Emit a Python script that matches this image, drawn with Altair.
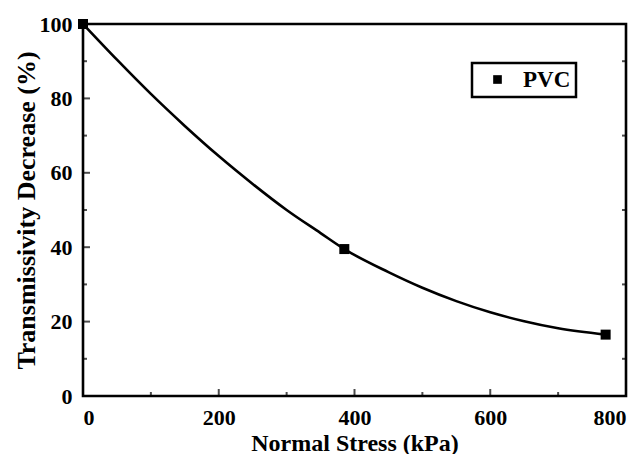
import altair as alt
import pandas as pd

# measured points
pts_x = [0, 385, 770]
pts_y = [100, 39.5, 16.5]
series_name = "PVC"

# fitted curve
curve_x = [0, 50, 100, 150, 200, 250, 300, 350, 385, 450, 500, 550, 600, 650, 700, 770]
curve_y = [100, 90.4, 81.2, 72.6, 64.5, 57, 50, 43.8, 39.5, 33.3, 29.1, 25.5, 22.5, 20.1, 18.2, 16.5]

x_major = [0, 200, 400, 600, 800]
x_minor = [100, 300, 500, 700]
y_major = [0, 20, 40, 60, 80, 100]
y_minor = [10, 30, 50, 70, 90]

W, H = 543, 372
FONT = "Liberation Serif"

pts = pd.DataFrame({"x": pts_x, "y": pts_y, "s": [series_name] * len(pts_x)})
curve = pd.DataFrame({"x": curve_x, "y": curve_y})

xs = alt.Scale(domain=[0, 800], nice=False)
ys = alt.Scale(domain=[0, 100], nice=False)

xaxis = alt.Axis(values=x_major, tickSize=0, labelPadding=11, title="Normal Stress (kPa)",
                 titlePadding=3, titleFontSize=24, domain=False, grid=False)
yaxis = alt.Axis(values=y_major, tickSize=0, labelPadding=11, title="Transmissivity Decrease (%)",
                 titlePadding=0, titleFontSize=26, domain=False, grid=False)

line = alt.Chart(curve).mark_line(color="black", strokeWidth=2.6, interpolate="monotone", clip=False).encode(
    x=alt.X("x:Q", scale=xs, axis=xaxis),
    y=alt.Y("y:Q", scale=ys, axis=yaxis),
)

points = alt.Chart(pts).mark_square(size=100, opacity=1, clip=False).encode(
    x=alt.X("x:Q", scale=xs),
    y=alt.Y("y:Q", scale=ys),
    color=alt.Color("s:N", scale=alt.Scale(range=["black"]),
                    legend=alt.Legend(title=None, orient="none", legendX=389, legendY=39,
                                      strokeColor="black", padding=5, symbolOffset=9,
                                      labelOffset=14, symbolSize=75, symbolType="square",
                                      labelFont=FONT, labelFontSize=23, labelFontWeight="bold",
                                      labelColor="black")),
)

def yt(vals, size):
    return alt.Chart(pd.DataFrame({"v": vals})).mark_tick(color="black", thickness=2, size=size, orient="horizontal").encode(
        y=alt.Y("v:Q", scale=ys), x=alt.value(size / 2))

def yt_r(vals, size):
    return alt.Chart(pd.DataFrame({"v": vals})).mark_tick(color="black", thickness=2, size=size, orient="horizontal").encode(
        y=alt.Y("v:Q", scale=ys), x=alt.value(W - size / 2))

def xt(vals, size):
    return alt.Chart(pd.DataFrame({"v": vals})).mark_tick(color="black", thickness=2, size=size, orient="vertical").encode(
        x=alt.X("v:Q", scale=xs), y=alt.value(H - size / 2))

chart = alt.layer(
    yt(y_major, 7), yt(y_minor, 4), xt(x_major, 7), xt(x_minor, 4), yt_r(y_minor, 4),
    line, points,
).properties(width=W, height=H, background="white").configure_view(
    stroke="black", strokeWidth=2.6
).configure_axis(
    labelFont=FONT, labelFontSize=22, labelFontWeight="bold", labelColor="black",
    titleFont=FONT, titleFontWeight="bold", titleColor="black",
).configure_legend(strokeWidth=2.5)

chart.save("out.html", embed_options={"renderer": "svg", "actions": False})
